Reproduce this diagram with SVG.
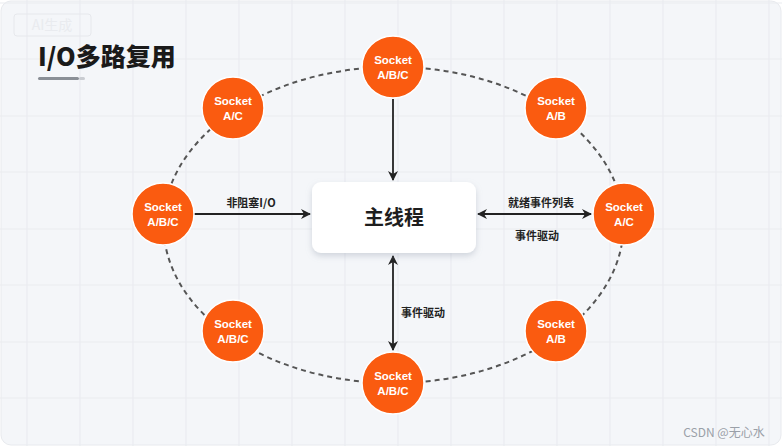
<svg xmlns="http://www.w3.org/2000/svg" width="782" height="446" viewBox="0 0 782 446">
<defs>
<style>
.grid line{stroke:#e9ecf0;stroke-width:1.2}
.sock circle{fill:#fa5b10;stroke:#ffffff;stroke-width:1.5}
.sock text{fill:#ffffff;font-family:"Liberation Sans","Noto Sans",sans-serif;font-size:11.5px;font-weight:bold;text-anchor:middle}
.lbl{fill:#222;font-family:"Noto Sans CJK SC","Liberation Sans",sans-serif;font-size:11px;font-weight:bold;text-anchor:middle}
.conn{stroke:#222;stroke-width:1.8;fill:none}
</style>
<marker id="ah" viewBox="0 0 10 10" refX="9" refY="5" markerWidth="10" markerHeight="10" orient="auto-start-reverse" markerUnits="userSpaceOnUse">
<path d="M0,0 L10,5 L0,10 L3,5 Z" fill="#222"/>
</marker>
<filter id="sh" x="-20%" y="-20%" width="140%" height="150%">
<feDropShadow dx="0" dy="3" stdDeviation="3" flood-color="#8a94a6" flood-opacity="0.35"/>
</filter>
</defs>
<rect x="0" y="0" width="782" height="446" fill="#ffffff"/>
<rect x="1" y="1" width="780" height="444" rx="10" fill="#f4f6f9" stroke="#e8eaee"/>
<g class="grid">
<line x1="27" y1="0" x2="27" y2="446"/><line x1="80" y1="0" x2="80" y2="446"/><line x1="133" y1="0" x2="133" y2="446"/><line x1="186" y1="0" x2="186" y2="446"/><line x1="239" y1="0" x2="239" y2="446"/><line x1="292" y1="0" x2="292" y2="446"/><line x1="345" y1="0" x2="345" y2="446"/><line x1="398" y1="0" x2="398" y2="446"/><line x1="451" y1="0" x2="451" y2="446"/><line x1="504" y1="0" x2="504" y2="446"/><line x1="557" y1="0" x2="557" y2="446"/><line x1="610" y1="0" x2="610" y2="446"/><line x1="663" y1="0" x2="663" y2="446"/><line x1="716" y1="0" x2="716" y2="446"/><line x1="769" y1="0" x2="769" y2="446"/>
<line x1="0" y1="3" x2="782" y2="3"/><line x1="0" y1="59" x2="782" y2="59"/><line x1="0" y1="116" x2="782" y2="116"/><line x1="0" y1="172" x2="782" y2="172"/><line x1="0" y1="229" x2="782" y2="229"/><line x1="0" y1="285" x2="782" y2="285"/><line x1="0" y1="342" x2="782" y2="342"/><line x1="0" y1="398" x2="782" y2="398"/>
</g>
<g id="watermark">
<rect x="14" y="14" width="77" height="22" rx="3" fill="none" stroke="#e6e8ec"/>
<text x="52" y="30" font-family="Noto Sans CJK SC,sans-serif" font-size="14" fill="#e9ebef" text-anchor="middle">AI生成</text>
<text x="724" y="437" font-family="Noto Sans CJK SC,sans-serif" font-size="12" fill="#9aa0a8" text-anchor="middle">CSDN @无心水</text>
</g>
<g id="title">
<text x="38" y="66" font-family="Noto Sans CJK SC,sans-serif" font-size="25" font-weight="900" fill="#1a1a1a">I/O多路复用</text>
<rect x="38" y="77" width="41" height="3" rx="1.5" fill="#8a8f96"/>
<rect x="79" y="77" width="6" height="3" rx="1.5" fill="#c9ccd1"/>
</g>
<ellipse cx="393.5" cy="225" rx="230" ry="158" fill="none" stroke="#555" stroke-width="2" stroke-dasharray="5 4"/>
<g id="connectors">
<line class="conn" x1="393" y1="99" x2="393" y2="180" marker-end="url(#ah)"/>
<line class="conn" x1="194" y1="214" x2="310" y2="214" marker-end="url(#ah)"/>
<line class="conn" x1="478" y1="214" x2="591" y2="214" marker-start="url(#ah)" marker-end="url(#ah)"/>
<line class="conn" x1="393" y1="256" x2="393" y2="350" marker-start="url(#ah)" marker-end="url(#ah)"/>
<text class="lbl" x="251" y="207">非阻塞I/O</text>
<text class="lbl" x="541" y="207">就绪事件列表</text>
<text class="lbl" x="537" y="240">事件驱动</text>
<text class="lbl" x="423" y="317">事件驱动</text>
</g>
<g id="main">
<rect x="312" y="182" width="164" height="71" rx="9" fill="#ffffff" filter="url(#sh)"/>
<text x="394" y="225" font-family="Noto Sans CJK SC,sans-serif" font-size="20" font-weight="bold" fill="#1e1e1e" text-anchor="middle">主线程</text>
</g>
<g id="s-top" class="sock"><circle cx="393" cy="67" r="31"/><text x="393" y="64">Socket</text><text x="393" y="79">A/B/C</text></g>
<g id="s-tl" class="sock"><circle cx="233" cy="108" r="31"/><text x="233" y="105">Socket</text><text x="233" y="120">A/C</text></g>
<g id="s-tr" class="sock"><circle cx="556" cy="108" r="31"/><text x="556" y="105">Socket</text><text x="556" y="120">A/B</text></g>
<g id="s-l" class="sock"><circle cx="163" cy="214" r="31"/><text x="163" y="211">Socket</text><text x="163" y="226">A/B/C</text></g>
<g id="s-r" class="sock"><circle cx="624" cy="214" r="31"/><text x="624" y="211">Socket</text><text x="624" y="226">A/C</text></g>
<g id="s-bl" class="sock"><circle cx="233" cy="331" r="31"/><text x="233" y="328">Socket</text><text x="233" y="343">A/B/C</text></g>
<g id="s-br" class="sock"><circle cx="556" cy="331" r="31"/><text x="556" y="328">Socket</text><text x="556" y="343">A/B</text></g>
<g id="s-b" class="sock"><circle cx="393" cy="383" r="31"/><text x="393" y="380">Socket</text><text x="393" y="395">A/B/C</text></g>
</svg>
